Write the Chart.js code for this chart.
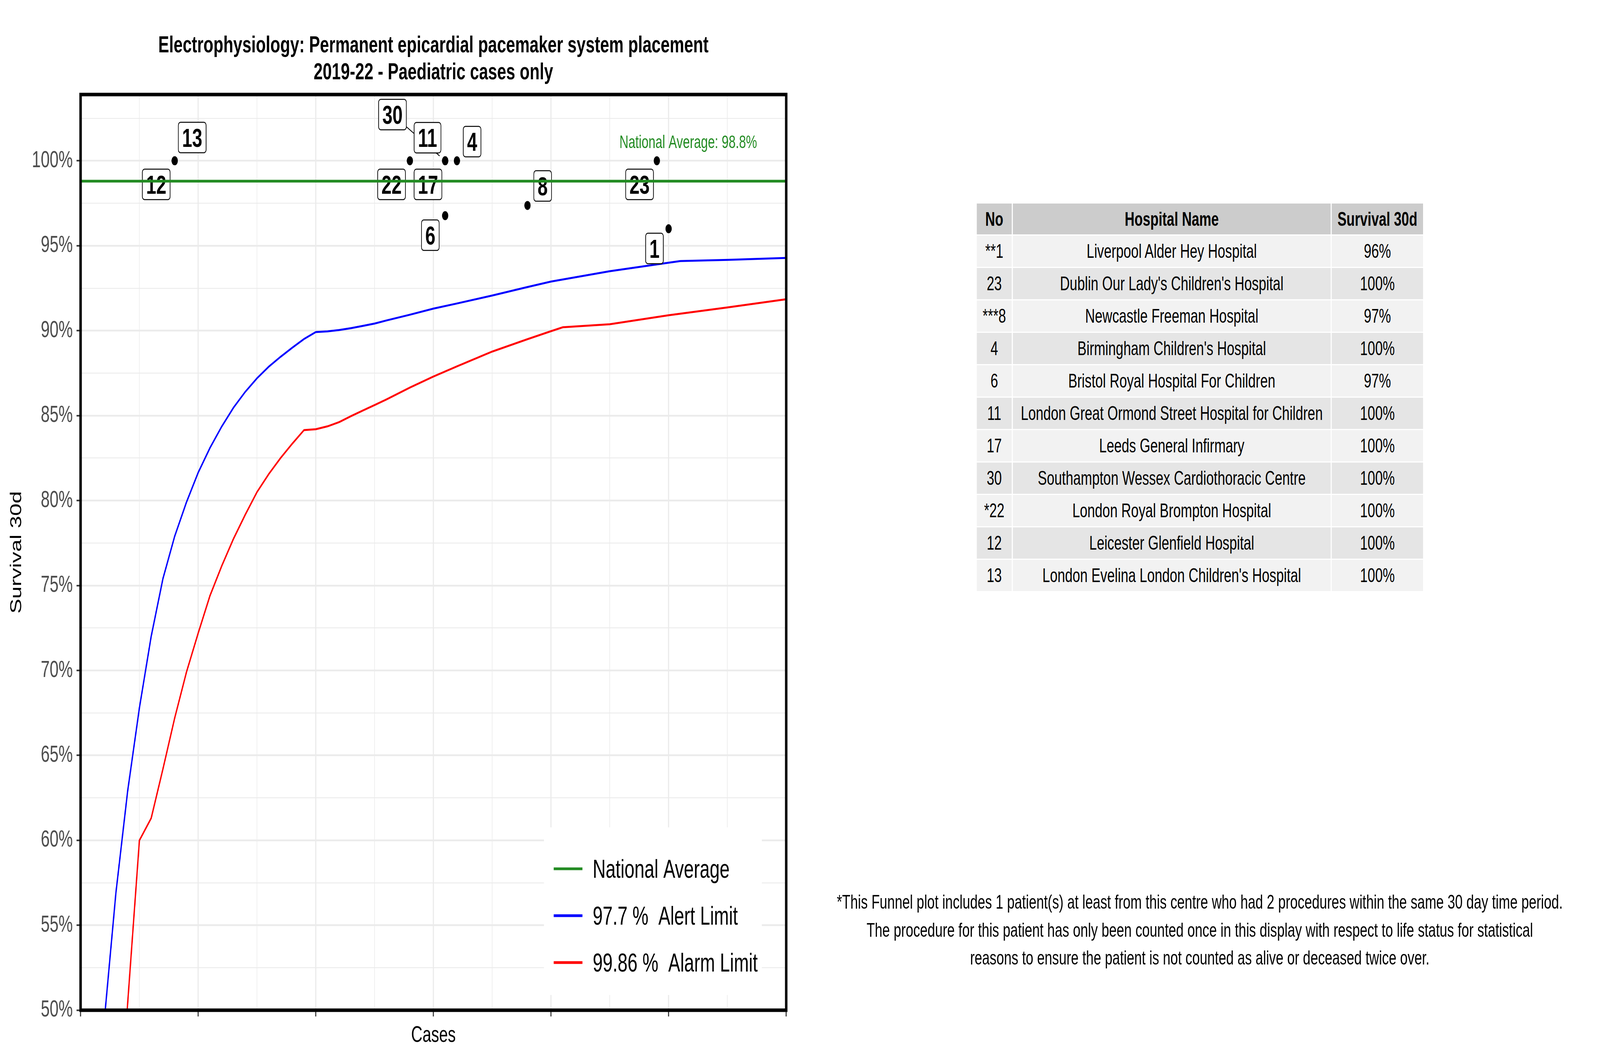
<!DOCTYPE html>
<html>
<head>
<meta charset="utf-8">
<title>Permanent epicardial pacemaker system placement</title>
<script src="https://cdn.jsdelivr.net/npm/chart.js@4.4.1/dist/chart.umd.min.js"></script>
<style>
  html, body { margin: 0; padding: 0; background: #fff; overflow: hidden; }
  #page { position: absolute; left: 0; top: 0; width: 5905px; height: 2716px;
          transform-origin: 0 0; background: #fff;
          font-family: "Liberation Sans", Arial, sans-serif; }
  #funnel { position: absolute; left: 0; top: 0; }
  #hospTable { position: absolute; left: 3601px; top: 518px; border-collapse: separate;
               border-spacing: 4px 3px; font-size: 50px; }
  #hospTable th, #hospTable td { padding: 0; text-align: center; vertical-align: middle;
                                 white-space: nowrap; color: #000; }
  #hospTable th { background: #cccccc; height: 79px; font-weight: bold; }
  #hospTable td { height: 80px; }
  #hospTable tbody tr:nth-child(odd) td { background: #f2f2f2; }
  #hospTable tbody tr:nth-child(even) td { background: #e5e5e5; }
  #note { position: absolute; left: 2900px; width: 3056px; top: 2274px; text-align: center;
          font-size: 50px; line-height: 71.5px; color: #000; }
</style>
</head>
<body>
<div id="page">
<canvas id="funnel" width="3200" height="2716"></canvas>
<table id="hospTable">
  <thead><tr><th style="width:129px">No</th><th style="width:1173px">Hospital Name</th><th style="width:337px">Survival 30d</th></tr></thead>
  <tbody></tbody>
</table>
<div id="note">*This Funnel plot includes 1 patient(s) at least from this centre who had 2 procedures within the same 30 day time period.<br>The procedure for this patient has only been counted once in this display with respect to life status for statistical<br>reasons to ensure the patient is not counted as alive or deceased twice over.</div>
</div>

<script>
// --- data ---
const hospitalNo = ['**1', '23', '***8', '4', '6', '11', '17', '30', '*22', '12', '13'];
const hospitalName = [
  'Liverpool Alder Hey Hospital',
  "Dublin Our Lady's Children's Hospital",
  'Newcastle Freeman Hospital',
  "Birmingham Children's Hospital",
  'Bristol Royal Hospital For Children',
  'London Great Ormond Street Hospital for Children',
  'Leeds General Infirmary',
  'Southampton Wessex Cardiothoracic Centre',
  'London Royal Brompton Hospital',
  'Leicester Glenfield Hospital',
  "London Evelina London Children's Hospital"
];
const cases = [50, 49, 38, 32, 31, 31, 31, 31, 28, 8, 8];
const survival = [96, 100, 97.37, 100, 96.77, 100, 100, 100, 100, 100, 100];

const nationalAverage = 98.8;

const alertCases = [2, 3, 4, 5, 6, 7, 8, 9, 10, 11, 12, 13, 14, 15, 16, 17, 18, 19, 20,
  21, 22, 23, 24, 25, 26, 28, 30, 32, 35, 38, 40, 45, 50, 51, 55, 60];
const alertLimit = [49.3, 56.9, 62.9, 67.8, 72.0, 75.4, 77.9, 79.9, 81.65, 83.1, 84.36, 85.47, 86.4, 87.2, 87.88, 88.46, 89.0, 89.51, 89.92,
  89.96, 90.04, 90.15, 90.28, 90.42, 90.6, 90.94, 91.3, 91.6, 92.07, 92.57, 92.89, 93.5, 94.0, 94.1, 94.17, 94.28];

const alarmCases = [3, 4, 5, 6, 7, 8, 9, 10, 11, 12, 13, 14, 15, 16, 17, 18, 19, 20,
  21, 22, 23, 24, 25, 26, 28, 30, 32, 35, 38, 40, 41, 45, 50, 55, 60];
const alarmLimit = [40.0, 50.4, 60.0, 61.3, 64.2, 67.2, 69.9, 72.2, 74.4, 76.15, 77.75, 79.17, 80.5, 81.56, 82.5, 83.35, 84.15, 84.2,
  84.37, 84.62, 84.97, 85.3, 85.62, 85.95, 86.65, 87.3, 87.9, 88.77, 89.5, 89.97, 90.2, 90.38, 90.91, 91.37, 91.85];

const seriesNames = ['National Average', '97.7 %  Alert Limit', '99.86 %  Alarm Limit'];
const yMajor = [50, 55, 60, 65, 70, 75, 80, 85, 90, 95, 100];
const yMinor = [52.5, 57.5, 62.5, 67.5, 72.5, 77.5, 82.5, 87.5, 92.5, 97.5, 102.5];
const xMajor = [0, 10, 20, 30, 40, 50, 60];
const xMinor = [5, 15, 25, 35, 45, 55];

// where the repelled labels ended up (axis units), same order as hospitalNo
const labelPos = [[48.8, 94.84], [47.53, 98.61], [39.29, 98.52], [33.29, 101.13], [29.74, 95.62],
  [29.5, 101.36], [29.54, 98.61], [26.52, 102.72], [26.44, 98.61], [6.43, 98.61], [9.49, 101.37]];
const withSegment = [false, false, false, false, false, false, false, true, false, false, false];
const avgLabelPos = [51.67, 100.76];

// the layout is drawn on a 5905x2716 sheet; fit it to whatever window we get
const page = document.getElementById('page');
const sx = (window.innerWidth || 5905) / 5905, sy = (window.innerHeight || 2716) / 2716;
if (Math.abs(sx - 1) > 0.001 || Math.abs(sy - 1) > 0.001) {
  page.style.transform = 'scale(' + sx + ',' + sy + ')';
}

// --- table ---
const tbody = document.querySelector('#hospTable tbody');
hospitalNo.forEach((no, i) => {
  const tr = document.createElement('tr');
  [no, hospitalName[i], Math.round(survival[i]) + '%'].forEach(t => {
    const td = document.createElement('td');
    td.textContent = t;
    tr.appendChild(td);
  });
  tbody.appendChild(tr);
});

// --- chart ---
const FONT = '"Liberation Sans", Arial, sans-serif';
const GREEN = '#228b22';

function roundBox(ctx, x, y, w, h, r) {
  ctx.beginPath();
  ctx.moveTo(x + r, y);
  ctx.arcTo(x + w, y, x + w, y + h, r);
  ctx.arcTo(x + w, y + h, x, y + h, r);
  ctx.arcTo(x, y + h, x, y, r);
  ctx.arcTo(x, y, x + w, y, r);
  ctx.closePath();
}

function drawLabels(chart) {
  const ctx = chart.ctx;
  const xs = chart.scales.x, ys = chart.scales.y;
  ctx.save();
  ctx.font = 'bold 67px ' + FONT;
  const boxes = hospitalNo.map((no, i) => {
    const text = no.replace(/\*/g, '');
    const w = ctx.measureText(text).width + 28;
    return { text, w, h: 78,
      cx: xs.getPixelForValue(labelPos[i][0]), cy: ys.getPixelForValue(labelPos[i][1]),
      px: xs.getPixelForValue(cases[i]), py: ys.getPixelForValue(survival[i]) };
  });
  // segments first, so other boxes sit on top of them
  ctx.strokeStyle = '#000';
  ctx.lineWidth = 2.5;
  boxes.forEach((b, i) => {
    if (!withSegment[i]) return;
    const dx = b.px - b.cx, dy = b.py - b.cy;
    const len = Math.hypot(dx, dy);
    const t0 = Math.min((b.w / 2) / Math.abs(dx || 1e-9), (b.h / 2) / Math.abs(dy || 1e-9));
    const t1 = 1 - 24 / len;
    ctx.beginPath();
    ctx.moveTo(b.cx + dx * t0, b.cy + dy * t0);
    ctx.lineTo(b.cx + dx * t1, b.cy + dy * t1);
    ctx.stroke();
  });
  ctx.textAlign = 'center';
  ctx.textBaseline = 'alphabetic';
  boxes.forEach(b => {
    roundBox(ctx, b.cx - b.w / 2, b.cy - b.h / 2, b.w, b.h, 8);
    ctx.fillStyle = '#fff';
    ctx.fill();
    ctx.lineWidth = 2.5;
    ctx.strokeStyle = '#000';
    ctx.stroke();
    ctx.fillStyle = '#000';
    ctx.fillText(b.text, b.cx, b.cy + 24);
  });
  ctx.restore();
}

const decor = {
  id: 'decor',
  afterDatasetDraw(chart, args) {
    if (chart.data.datasets[args.index].isHospitals) drawLabels(chart);
  },
  afterDatasetsDraw(chart) {
    const ctx = chart.ctx;
    const a = chart.chartArea;
    const xs = chart.scales.x, ys = chart.scales.y;
    ctx.save();
    // national average caption
    ctx.fillStyle = GREEN;
    ctx.font = '46px ' + FONT;
    ctx.textAlign = 'center';
    ctx.fillText('National Average: ' + nationalAverage + '%',
      xs.getPixelForValue(avgLabelPos[0]), ys.getPixelForValue(avgLabelPos[1]));

    // legend
    const lw = 804, lh = 429;
    const lx = a.right - 90 - lw, ly = a.bottom - 39 - lh;
    ctx.fillStyle = '#fff';
    ctx.fillRect(lx, ly, lw, lh);
    const colors = [GREEN, '#0000ff', '#ff0000'];
    ctx.font = '66px ' + FONT;
    ctx.textAlign = 'left';
    seriesNames.forEach((name, i) => {
      const yc = ly + 106 + i * 120;
      ctx.strokeStyle = colors[i];
      ctx.lineWidth = 7;
      ctx.beginPath();
      ctx.moveTo(lx + 36, yc);
      ctx.lineTo(lx + 142, yc);
      ctx.stroke();
      ctx.fillStyle = '#000';
      ctx.fillText(name, lx + 180, yc + 23);
    });

    // panel border
    ctx.strokeStyle = '#000';
    ctx.lineWidth = 9;
    ctx.strokeRect(a.left, a.top, a.right - a.left, a.bottom - a.top);
    ctx.restore();
  },
  afterDraw(chart) {
    const ctx = chart.ctx;
    const a = chart.chartArea;
    const cx = (a.left + a.right) / 2;
    ctx.save();
    ctx.fillStyle = '#000';
    ctx.textAlign = 'center';
    ctx.textBaseline = 'alphabetic';
    ctx.font = 'bold 60px ' + FONT;
    ctx.fillText('Electrophysiology: Permanent epicardial pacemaker system placement', cx, 134);
    ctx.fillText('2019-22 - Paediatric cases only', cx, 203);
    ctx.font = '58px ' + FONT;
    ctx.fillText('Cases', cx, 2667);
    ctx.font = '57px ' + FONT;
    ctx.translate(78, (a.top + a.bottom) / 2);
    ctx.rotate(-Math.PI / 2);
    ctx.fillText('Survival 30d', 0, 0);
    ctx.restore();
  }
};

const isMajorY = c => c.tick && yMajor.includes(c.tick.value);
const isMajorX = c => c.tick && xMajor.includes(c.tick.value);

new Chart(document.getElementById('funnel'), {
  type: 'scatter',
  data: {
    datasets: [
      {
        label: seriesNames[0],
        data: [{ x: xMajor[0], y: nationalAverage }, { x: xMajor[xMajor.length - 1], y: nationalAverage }],
        showLine: true, borderColor: GREEN, borderWidth: 7, pointRadius: 0, order: 0
      },
      {
        label: seriesNames[1],
        data: alertCases.map((c, i) => ({ x: c, y: alertLimit[i] })),
        showLine: true, borderColor: '#0000ff', borderWidth: 5, pointRadius: 0, tension: 0, order: 2
      },
      {
        label: seriesNames[2],
        data: alarmCases.map((c, i) => ({ x: c, y: alarmLimit[i] })),
        showLine: true, borderColor: '#ff0000', borderWidth: 5, pointRadius: 0, tension: 0, order: 3
      },
      {
        label: 'Hospitals',
        isHospitals: true,
        data: cases.map((c, i) => ({ x: c, y: survival[i] })),
        backgroundColor: '#000', borderWidth: 0, pointRadius: 11.5, order: 1
      }
    ]
  },
  options: {
    responsive: false,
    devicePixelRatio: 1,
    animation: false,
    events: [],
    layout: { padding: { top: 242, left: 0, right: 298.5, bottom: 0 } },
    plugins: { legend: { display: false }, title: { display: false }, tooltip: { enabled: false } },
    scales: {
      x: {
        type: 'linear', min: 0, max: 60,
        afterBuildTicks: ax => { ax.ticks = xMajor.concat(xMinor).sort((p, q) => p - q).map(v => ({ value: v })); },
        afterFit: ax => { ax.height = 130; },
        ticks: { display: false, autoSkip: false },
        grid: {
          color: '#ebebeb',
          lineWidth: c => isMajorX(c) ? 4.5 : 2.3,
          tickLength: 16, tickWidth: 4,
          tickColor: c => isMajorX(c) ? '#333333' : 'rgba(0,0,0,0)'
        },
        border: { display: false }
      },
      y: {
        type: 'linear', min: 50, max: 103.9,
        afterBuildTicks: ax => { ax.ticks = yMajor.concat(yMinor).sort((p, q) => p - q).map(v => ({ value: v })); },
        afterFit: ax => { ax.width = 297.5; },
        ticks: {
          autoSkip: false, padding: 14, color: '#4d4d4d',
          font: { family: FONT, size: 59 },
          callback: v => yMajor.includes(v) ? v + '%' : ''
        },
        grid: {
          color: '#ebebeb',
          lineWidth: c => isMajorY(c) ? 4.5 : 2.3,
          tickLength: 15, tickWidth: 4,
          tickColor: c => isMajorY(c) ? '#333333' : 'rgba(0,0,0,0)'
        },
        border: { display: false }
      }
    }
  },
  plugins: [decor]
});
</script>
</body>
</html>
